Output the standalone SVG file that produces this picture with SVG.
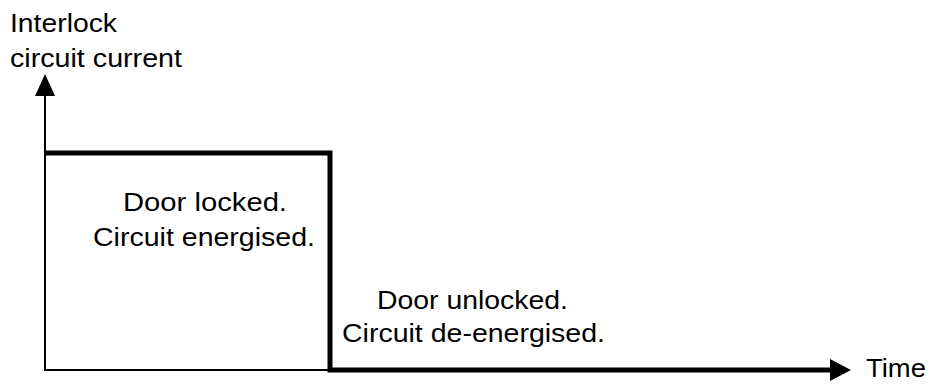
<svg xmlns="http://www.w3.org/2000/svg" width="930" height="384" viewBox="0 0 930 384">
<defs>
<style>
text{font-family:"Liberation Sans",Arial,sans-serif;font-size:26px;fill:#000}
.thin{stroke:#000;stroke-width:2;fill:none}
.thick{stroke:#000;stroke-width:5;fill:none}
</style>
</defs>
<rect width="930" height="384" fill="#fff"/>
<g id="connectors">
<line class="thin" x1="45" y1="371" x2="45" y2="94"/>
<polygon points="45,74 35,96 55,96" fill="#000"/>
<line class="thin" x1="44" y1="370" x2="832" y2="370"/>
<polygon points="851,370 830,359 830,381" fill="#000"/>
<polyline class="thick" points="45,153 330,153 330,370 830,370"/>
</g>
<g id="y-label">
<text x="10" y="32" textLength="107" lengthAdjust="spacingAndGlyphs">Interlock</text>
<text x="10" y="67" textLength="172" lengthAdjust="spacingAndGlyphs">circuit current</text>
</g>
<g id="locked">
<text x="123" y="211" textLength="164" lengthAdjust="spacingAndGlyphs">Door locked.</text>
<text x="93" y="246" textLength="222" lengthAdjust="spacingAndGlyphs">Circuit energised.</text>
</g>
<g id="unlocked">
<text x="377" y="309" textLength="191" lengthAdjust="spacingAndGlyphs">Door unlocked.</text>
<text x="342" y="342" textLength="263" lengthAdjust="spacingAndGlyphs">Circuit de-energised.</text>
</g>
<g id="x-label">
<text x="866" y="377" textLength="60" lengthAdjust="spacingAndGlyphs">Time</text>
</g>
</svg>
